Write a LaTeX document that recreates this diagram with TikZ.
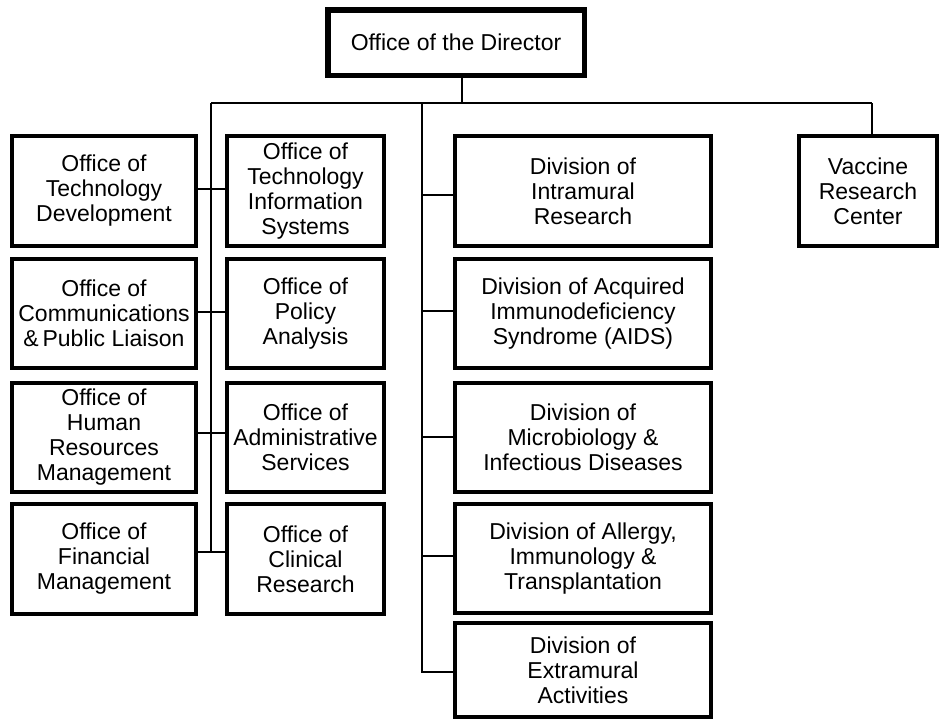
\documentclass[tikz,border=0pt]{standalone}
\usepackage{fontspec}
\setmainfont{Liberation Sans}
\begin{document}
\begin{tikzpicture}[x=1pt,y=-1pt,
  box/.style={draw, line width=4pt, inner sep=0pt, align=center,
    font=\fontsize{23}{25}\selectfont},
  dirbox/.style={box, line width=5.5pt},
  conn/.style={line width=1.6pt}]
\useasboundingbox (0,0) rectangle (941,721);
% top
\node[dirbox, minimum width=256.5pt, minimum height=65.5pt] (dir) at (456,42.5) {Office of the Director};
% left column
\node[box, minimum width=184pt, minimum height=110pt] (L1) at (104,191) {Office of\\Technology\\Development};
\node[box, minimum width=184pt, minimum height=109pt] (L2) at (104,313.5) {Office of\\Communications\\\&\,Public Liaison};
\node[box, minimum width=184pt, minimum height=109pt] (L3) at (104,437.5) {Office of\\Human\\Resources\\Management};
\node[box, minimum width=184pt, minimum height=110pt] (L4) at (104,559) {Office of\\Financial\\Management};
% middle column
\node[box, minimum width=157pt, minimum height=110pt] (M1) at (305.5,191) {Office of\\Technology\\Information\\Systems};
\node[box, minimum width=157pt, minimum height=109pt] (M2) at (305.5,313.5) {Office of\\Policy\\Analysis};
\node[box, minimum width=157pt, minimum height=109pt] (M3) at (305.5,437.5) {Office of\\Administrative\\Services};
\node[box, minimum width=157pt, minimum height=110pt] (M4) at (305.5,559) {Office of\\Clinical\\Research};
% right column
\node[box, minimum width=256pt, minimum height=110pt] (R1) at (583,191) {Division of\\Intramural\\Research};
\node[box, minimum width=256pt, minimum height=109pt] (R2) at (583,313.5) {Division of Acquired\\Immunodeficiency\\Syndrome (AIDS)};
\node[box, minimum width=256pt, minimum height=109pt] (R3) at (583,437.5) {Division of\\Microbiology \&\\Infectious Diseases};
\node[box, minimum width=256pt, minimum height=109pt] (R4) at (583,558.5) {Division of Allergy,\\Immunology \&\\Transplantation};
\node[box, minimum width=256pt, minimum height=94pt] (R5) at (583,670) {Division of\\Extramural\\Activities};
% vaccine
\node[box, minimum width=138pt, minimum height=110pt] (V) at (868,191) {Vaccine\\Research\\Center};
% bus
\coordinate (busL) at (211,103);
\coordinate (busR) at (872,103);
\coordinate (j) at (462,103);
\coordinate (busM) at (422,103);
\draw[conn] (dir.south -| j) -- (j);
\draw[conn] (busL) -- (busR);
\draw[conn] (busR) -- (busR |- V.north);
% left spine
\coordinate (c1) at (211,189);
\coordinate (c2) at (211,312);
\coordinate (c3) at (211,433);
\coordinate (c4) at (211,552);
\draw[conn] (busL) -- (c4);
\draw[conn] (L1.east |- c1) -- (M1.west |- c1);
\draw[conn] (L2.east |- c2) -- (M2.west |- c2);
\draw[conn] (L3.east |- c3) -- (M3.west |- c3);
\draw[conn] (L4.east |- c4) -- (M4.west |- c4);
% middle spine
\coordinate (d1) at (422,195);
\coordinate (d2) at (422,311);
\coordinate (d3) at (422,437);
\coordinate (d4) at (422,556);
\coordinate (d5) at (422,672);
\draw[conn] (busM) -- (d5) -- (R5.west |- d5);
\draw[conn] (d1) -- (R1.west |- d1);
\draw[conn] (d2) -- (R2.west |- d2);
\draw[conn] (d3) -- (R3.west |- d3);
\draw[conn] (d4) -- (R4.west |- d4);
\end{tikzpicture}
\end{document}
